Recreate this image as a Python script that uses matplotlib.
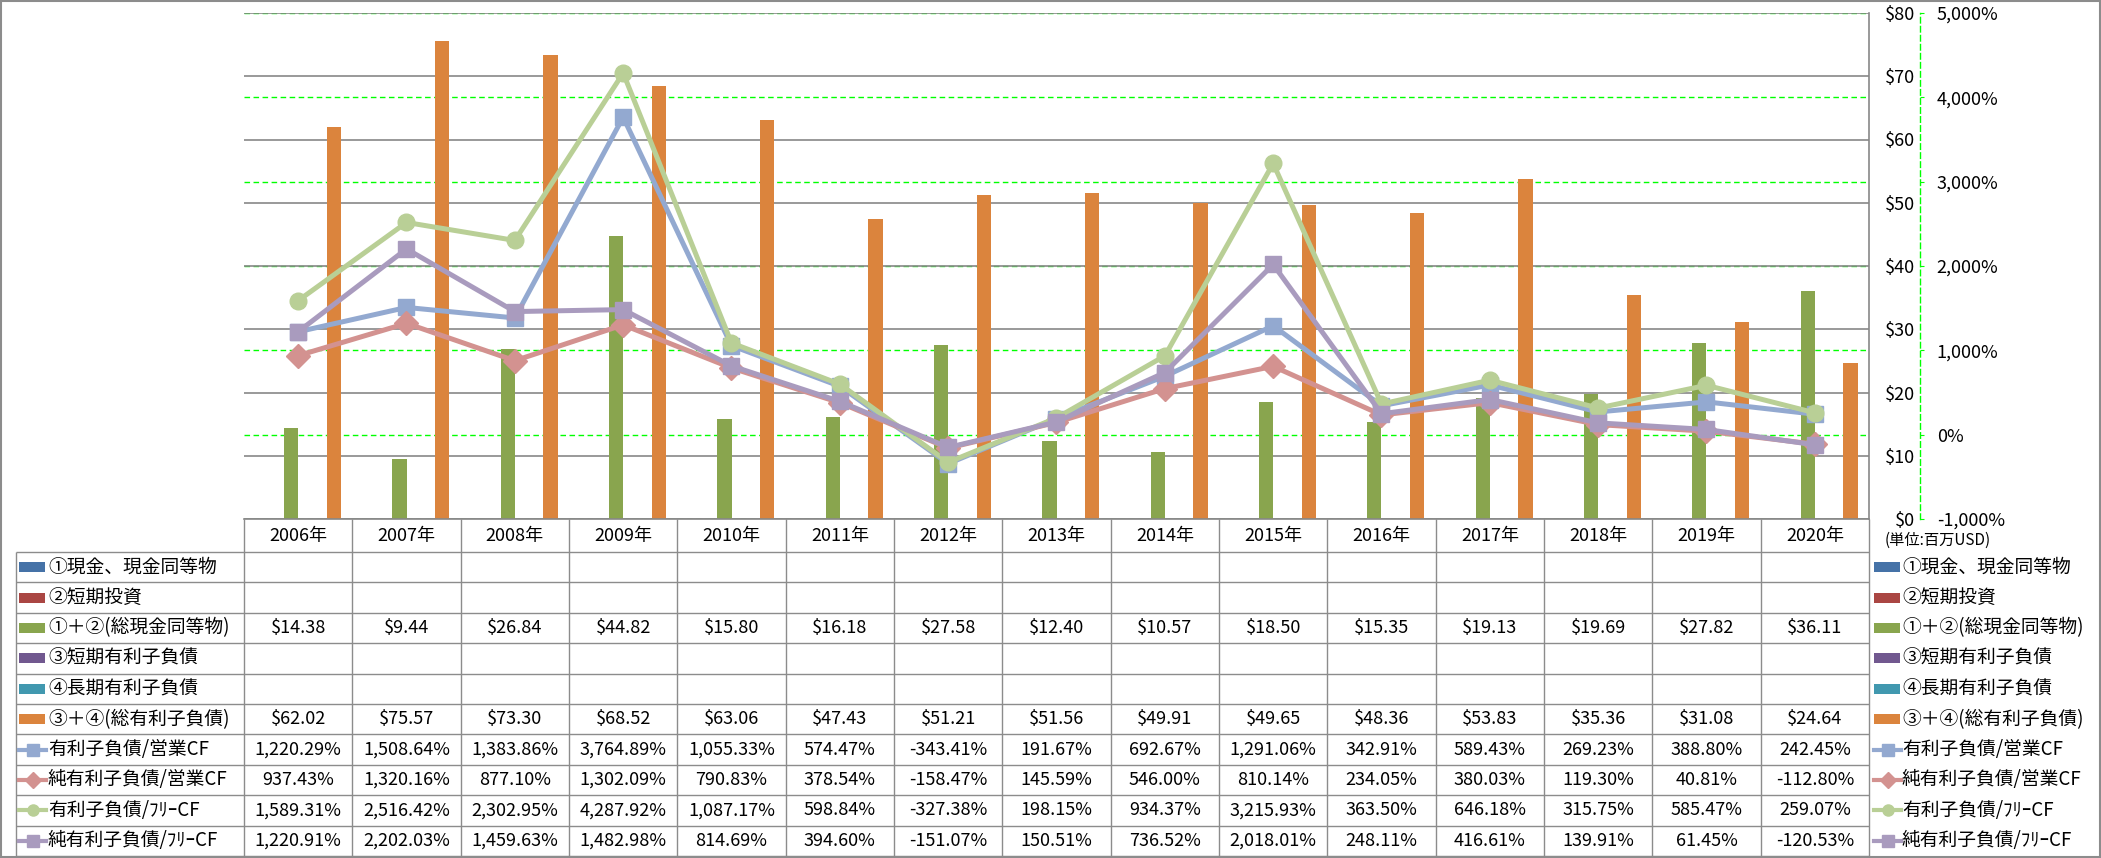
import numpy as np
import matplotlib
matplotlib.use('Agg')
import matplotlib.pyplot as plt
from matplotlib.patches import Rectangle
from matplotlib.lines import Line2D

plt.rcParams['font.family'] = ['Noto Sans CJK JP', 'DejaVu Sans']

years = ['2006年', '2007年', '2008年', '2009年', '2010年', '2011年', '2012年', '2013年',
         '2014年', '2015年', '2016年', '2017年', '2018年', '2019年', '2020年']

# bar series ($ million)
cash_total = [14.38, 9.44, 26.84, 44.82, 15.80, 16.18, 27.58, 12.40, 10.57, 18.50,
              15.35, 19.13, 19.69, 27.82, 36.11]
debt_total = [62.02, 75.57, 73.30, 68.52, 63.06, 47.43, 51.21, 51.56, 49.91, 49.65,
              48.36, 53.83, 35.36, 31.08, 24.64]

# line series (%)
debt_ocf = [1220.29, 1508.64, 1383.86, 3764.89, 1055.33, 574.47, -343.41, 191.67,
            692.67, 1291.06, 342.91, 589.43, 269.23, 388.80, 242.45]
net_debt_ocf = [937.43, 1320.16, 877.10, 1302.09, 790.83, 378.54, -158.47, 145.59,
                546.00, 810.14, 234.05, 380.03, 119.30, 40.81, -112.80]
debt_fcf = [1589.31, 2516.42, 2302.95, 4287.92, 1087.17, 598.84, -327.38, 198.15,
            934.37, 3215.93, 363.50, 646.18, 315.75, 585.47, 259.07]
net_debt_fcf = [1220.91, 2202.03, 1459.63, 1482.98, 814.69, 394.60, -151.07, 150.51,
                736.52, 2018.01, 248.11, 416.61, 139.91, 61.45, -120.53]

bar_names = ['①現金、現金同等物', '②短期投資', '①＋②(総現金同等物)',
             '③短期有利子負債', '④長期有利子負債', '③＋④(総有利子負債)']
bar_values = [None, None, cash_total, None, None, debt_total]
bar_colors = ['#4572A7', '#AA4643', '#89A54E', '#71588F', '#4198AF', '#DB843D']

line_names = ['有利子負債/営業CF', '純有利子負債/営業CF', '有利子負債/ﾌﾘｰCF', '純有利子負債/ﾌﾘｰCF']
line_values = [debt_ocf, net_debt_ocf, debt_fcf, net_debt_fcf]
line_colors = ['#93A9D0', '#D39290', '#B9CF96', '#A99BBE']
line_markers = ['s', 'D', 'o', 's']

W, H = 2101, 858
left, right, top, bottom = 244, 1869, 13, 519
grid_gray = '#878787'
lime = '#00FF00'

fig = plt.figure(figsize=(W / 100, H / 100), dpi=100, facecolor='white')
rect = [left / W, 1 - bottom / H, (right - left) / W, (bottom - top) / H]

# table / legend / frame layer (pixel coordinates)
axt = fig.add_axes([0, 0, 1, 1], zorder=-1)
axt.set_xlim(0, W)
axt.set_ylim(H, 0)
axt.axis('off')

# green dashed grid of the % scale, below the bars
ax3 = fig.add_axes(rect, zorder=0)
ax3.patch.set_visible(False)
ax3.set_xlim(-0.5, len(years) - 0.5)
ax3.set_ylim(-1000, 5000)
ax3.set_yticks(np.arange(-1000, 5001, 1000))
ax3.set_xticks([])
ax3.grid(axis='y', color=lime, linestyle=(0, (4, 2.5)), linewidth=1)
ax3.tick_params(left=False, labelleft=False)
for s in ax3.spines.values():
    s.set_visible(False)

# bars, $ axis
ax = fig.add_axes(rect, zorder=1)
ax.patch.set_visible(False)
x = np.arange(len(years))
bw = 0.132
for k, vals in enumerate(bar_values):
    if vals is None:
        continue
    ax.bar(x + (k - 2.5) * bw, vals, bw, color=bar_colors[k], zorder=2)
ax.set_xlim(-0.5, len(years) - 0.5)
ax.set_ylim(0, 80)
ax.set_xticks([])
ax.grid(axis='y', color=grid_gray, linewidth=1.2)
ax.set_axisbelow(True)

# lines, % axis
ax2 = ax.twinx()
ax2.set_zorder(2)
ax2.patch.set_visible(False)
for vals, c, m in zip(line_values, line_colors, line_markers):
    ax2.plot(x, vals, color=c, lw=3.6, marker=m, ms=12, mfc=c, mec=c)
ax2.set_ylim(-1000, 5000)
pct_ticks = np.arange(-1000, 5001, 1000)
ax2.set_yticks(pct_ticks)
ax2.set_yticklabels(['{:,.0f}%'.format(v) for v in pct_ticks])
for tl, v in zip(ax2.get_yticklabels(), pct_ticks):
    if v < 0:
        tl.set_color('red')
for s in ['left', 'top', 'bottom']:
    ax2.spines[s].set_visible(False)
ax2.spines['right'].set_position(('axes', (1920 - left) / (right - left)))
ax2.spines['right'].set_color(lime)
ax2.spines['right'].set_linestyle((0, (4, 2.5)))
ax2.spines['right'].set_linewidth(1)
ax2.tick_params(axis='y', direction='out', length=3, color=lime, pad=9, labelsize=13)

# $ labels sit right of the plot (twinx moved them left)
usd_ticks = np.arange(0, 81, 10)
ax.yaxis.set_ticks_position('right')
ax.yaxis.set_label_position('right')
ax.set_yticks(usd_ticks)
ax.set_yticklabels(['${:.0f}'.format(v) for v in usd_ticks])
ax.tick_params(axis='y', length=0, pad=33, labelsize=13, labelright=True, labelleft=False)
for tl in ax.get_yticklabels():
    tl.set_ha('right')
ax.spines['left'].set_visible(False)
ax.spines['top'].set_visible(False)
for s in ['right', 'bottom']:
    ax.spines[s].set_color(grid_gray)
    ax.spines[s].set_linewidth(1.2)

# table
col_edges = np.linspace(left, right, len(years) + 1)
col_centers = (col_edges[:-1] + col_edges[1:]) / 2
row_top = 552
row_h = (856 - row_top) / 10
tcol = '#8C8C8C'
axt.vlines(col_edges, bottom, 856, color=tcol, lw=1)
axt.vlines(16, row_top, 856, color=tcol, lw=1)
axt.hlines(row_top + row_h * np.arange(11), 16, right, color=tcol, lw=1)
for cx, lab in zip(col_centers, years):
    axt.text(cx, (bottom + row_top) / 2, lab, ha='center', va='center', fontsize=13)


def draw_key(x0, yc, r):
    if r < 6:
        axt.add_patch(Rectangle((x0, yc - 5), 26, 10, color=bar_colors[r], lw=0))
    else:
        c = line_colors[r - 6]
        axt.add_line(Line2D([x0, x0 + 27], [yc, yc], color=c, lw=3))
        axt.add_line(Line2D([x0 + 13.5], [yc], color=c, marker=line_markers[r - 6],
                            ms=8, mfc=c, mec=c))


row_names = bar_names + line_names
row_values = bar_values + line_values
for r, (name, vals) in enumerate(zip(row_names, row_values)):
    yc = row_top + row_h * (r + 0.5)
    draw_key(19, yc, r)
    axt.text(48, yc, name, ha='left', va='center', fontsize=13.5)
    draw_key(1874, yc, r)
    axt.text(1902, yc, name, ha='left', va='center', fontsize=13.5)
    if vals is None:
        continue
    for cx, v in zip(col_centers, vals):
        s = '${:.2f}'.format(v) if r < 6 else '{:,.2f}%'.format(v)
        axt.text(cx, yc, s, ha='center', va='center', fontsize=13)

axt.text(1885, 540, '(単位:百万USD)', ha='left', va='center', fontsize=11)
axt.add_patch(Rectangle((1, 1), W - 2, H - 2, fill=False, ec=tcol, lw=1.5))

fig.savefig('out.png', dpi=100, facecolor='white')
